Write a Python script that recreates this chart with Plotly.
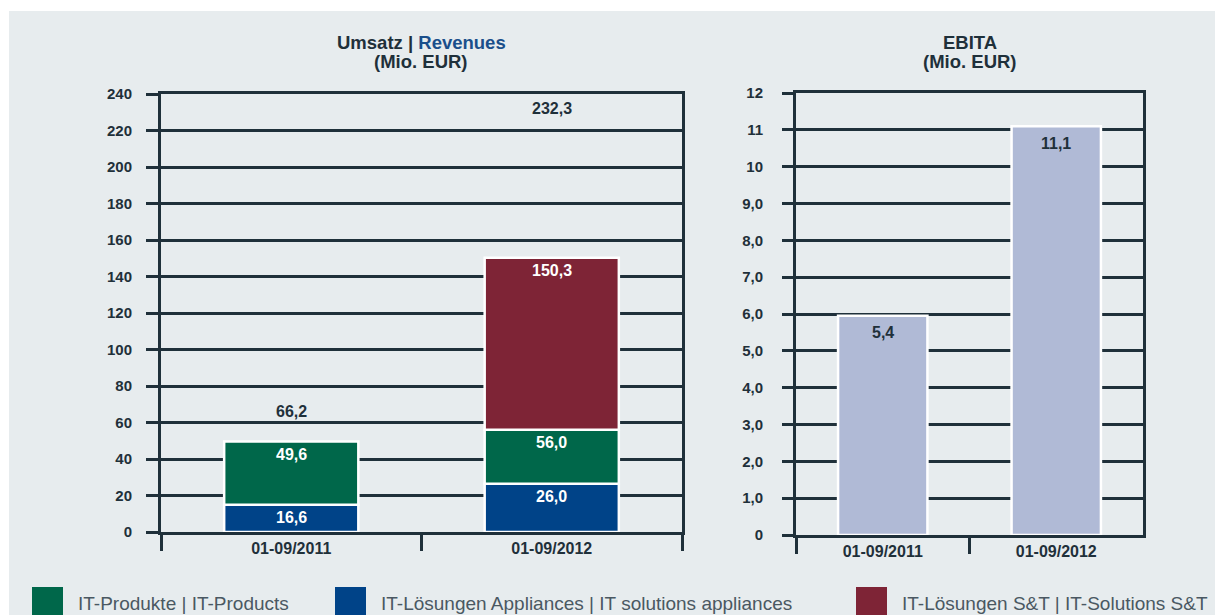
import plotly.graph_objects as go

# Die Seite hat 8 px Rand (body margin), daher Figur um 8 px kleiner
OFF = 8
W, H = 1223 - OFF, 615 - OFF

categories = ["01-09/2011", "01-09/2012"]

# Umsatz: Oberkanten der Segmente und Beschriftungen
appliances_top = [15.0, 26.5]
products_top = [49.6, 56.0]
st_top = [None, 150.3]
appliances_lbl = ["16,6", "26,0"]
products_lbl = ["49,6", "56,0"]
st_lbl = [None, "150,3"]
revenue_total = [66.2, 232.3]
revenue_total_lbl = ["66,2", "232,3"]

# EBITA
ebita_height = [5.95, 11.1]
ebita_lbl = ["5,4", "11,1"]
ebita_tickvals = [0, 1, 2, 3, 4, 5, 6, 7, 8, 9, 10, 11, 12]
ebita_ticktext = ["0", "1,0", "2,0", "3,0", "4,0", "5,0", "6,0", "7,0", "8,0", "9,0", "10", "11", "12"]

legend_names = ["IT-Produkte | IT-Products",
                "IT-Lösungen Appliances | IT solutions appliances",
                "IT-Lösungen S&T | IT-Solutions S&T"]

GREEN = "#00674a"
BLUE = "#004388"
RED = "#7e2436"
LAVENDER = "#b0bad6"
PLOT_BG = "#b8c5cc"
PAGE_BG = "#e7ecee"
DARK = "#1f303a"
FONT = "Liberation Sans Narrow, Arial Narrow, Liberation Sans, Arial, sans-serif"
FONT_REG = "Liberation Sans, Arial, sans-serif"


def px_x(v):
    return (v - OFF) / W


def px_y(v):
    return 1 - (v - OFF) / H


fig = go.Figure()
line = dict(color="white", width=2.5)

fig.add_trace(go.Bar(x=categories, y=appliances_top, marker=dict(color=BLUE, line=line),
                     xaxis="x", yaxis="y", showlegend=False, hoverinfo="skip"))
fig.add_trace(go.Bar(x=categories, y=[p - a for p, a in zip(products_top, appliances_top)],
                     base=appliances_top, marker=dict(color=GREEN, line=line),
                     xaxis="x", yaxis="y", showlegend=False, hoverinfo="skip"))
fig.add_trace(go.Bar(x=categories,
                     y=[None if s is None else s - p for s, p in zip(st_top, products_top)],
                     base=products_top, marker=dict(color=RED, line=line),
                     xaxis="x", yaxis="y", showlegend=False, hoverinfo="skip"))
fig.add_trace(go.Bar(x=categories, y=ebita_height, marker=dict(color=LAVENDER, line=line),
                     xaxis="x2", yaxis="y2", showlegend=False, hoverinfo="skip"))

ann = []
for tops, lbls in [(appliances_top, appliances_lbl), (products_top, products_lbl), (st_top, st_lbl)]:
    for c, t, l in zip(categories, tops, lbls):
        if t is None:
            continue
        ann.append(dict(x=c, y=t, xref="x", yref="y", text=l, showarrow=False, yshift=-13,
                        xanchor="center", yanchor="middle",
                        font=dict(family=FONT, size=16, color="white", weight="bold")))
for c, t, l in zip(categories, revenue_total, revenue_total_lbl):
    ann.append(dict(x=c, y=t, xref="x", yref="y", text=l, showarrow=False,
                    xanchor="center", yanchor="middle",
                    font=dict(family=FONT, size=16, color=DARK, weight="bold")))
for c, t, l in zip(categories, ebita_height, ebita_lbl):
    ann.append(dict(x=c, y=t, xref="x2", yref="y2", text=l, showarrow=False, yshift=-17,
                    xanchor="center", yanchor="middle",
                    font=dict(family=FONT, size=16, color=DARK, weight="bold")))

title_font = dict(family=FONT, size=18.5, color=DARK, weight="bold")
titles = [(421, 42, "Umsatz | <span style='color:#1a4f8b'>Revenues</span>"),
          (421, 61, "(Mio. EUR)"),
          (970, 42, "EBITA"),
          (970, 61, "(Mio. EUR)")]
for tx, ty, txt in titles:
    ann.append(dict(x=px_x(tx), y=px_y(ty), xref="paper", yref="paper", showarrow=False,
                    font=title_font, xanchor="center", yanchor="middle", text=txt))

shapes = [dict(type="rect", xref="paper", yref="paper", x0=px_x(9), x1=1, y0=0, y1=px_y(11),
               fillcolor=PAGE_BG, line_width=0, layer="below")]
legend_x = [32, 335, 856]
for name, color, lx in zip(legend_names, [GREEN, BLUE, RED], legend_x):
    shapes.append(dict(type="rect", xref="paper", yref="paper", x0=px_x(lx), x1=px_x(lx + 31),
                       y0=0, y1=px_y(587), fillcolor=color, line_width=0))
    ann.append(dict(x=px_x(lx + 44), y=px_y(603), xref="paper", yref="paper", xanchor="left",
                    yanchor="middle", showarrow=False, text=name,
                    font=dict(family=FONT_REG, size=19, color="#4a5862")))

tickfont = dict(family=FONT, size=15, color=DARK, weight="bold")
xcommon = dict(type="category", showline=True, linecolor=DARK, linewidth=3, mirror=True,
               ticks="outside", tickson="boundaries", ticklen=16, tickwidth=3, tickcolor=DARK,
               tickfont=dict(family=FONT, size=16, color=DARK, weight="bold"),
               showgrid=False, automargin=False, fixedrange=True)
ycommon = dict(showline=True, linecolor=DARK, linewidth=3, mirror=True, ticks="outside",
               tickwidth=2.5, tickcolor=DARK, showgrid=True, gridcolor=DARK, gridwidth=2.5,
               zeroline=False, tickfont=tickfont, fixedrange=True, automargin=False)

fig.update_layout(
    template="none",
    width=W, height=H, margin=dict(l=0, r=0, t=0, b=0, pad=0),
    paper_bgcolor="white", plot_bgcolor=PLOT_BG,
    barmode="overlay", bargap=0.485, showlegend=False,
    xaxis=dict(domain=[px_x(161), px_x(682)], anchor="y", **xcommon),
    yaxis=dict(domain=[px_y(532), px_y(94)], anchor="x", range=[0, 240], dtick=20,
               ticklen=12, ticklabelstandoff=11, **ycommon),
    xaxis2=dict(domain=[px_x(796), px_x(1143)], anchor="y2", **xcommon),
    yaxis2=dict(domain=[px_y(535), px_y(93)], anchor="x2", range=[0, 12],
                tickvals=ebita_tickvals, ticktext=ebita_ticktext,
                ticklen=11, ticklabelstandoff=16, **ycommon),
    annotations=ann, shapes=shapes,
)

fig.write_html("out.html")
